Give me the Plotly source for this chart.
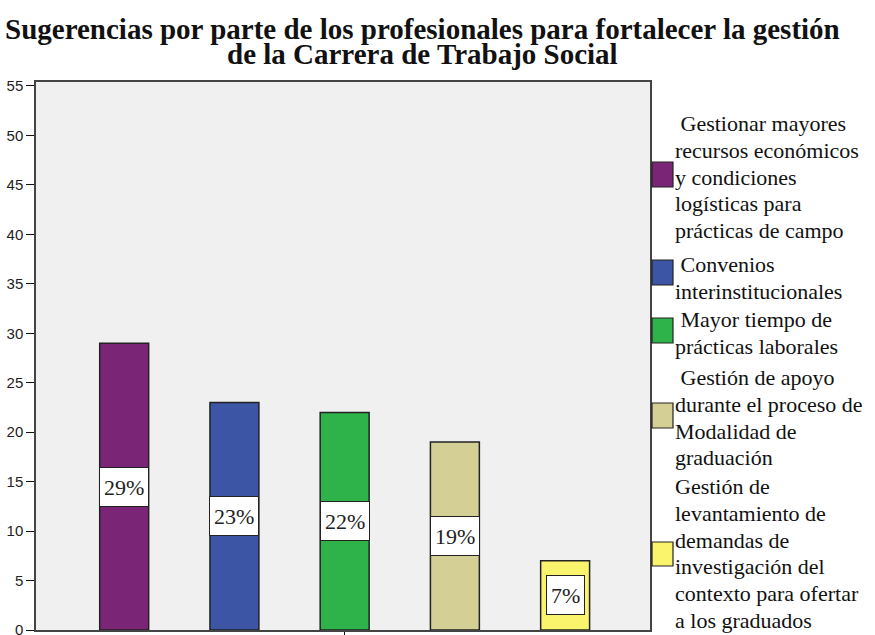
import plotly.graph_objects as go

# data
categorias = [
    "Gestionar mayores recursos económicos y condiciones logísticas para prácticas de campo",
    "Convenios interinstitucionales",
    "Mayor tiempo de prácticas laborales",
    "Gestión de apoyo durante el proceso de Modalidad de graduación",
    "Gestión de levantamiento de demandas de investigación del contexto para ofertar a los graduados",
]
porcentajes = [29, 23, 22, 19, 7]
etiquetas = ["29%", "23%", "22%", "19%", "7%"]
# legend text, wrapped as in the original
leyenda = [
    ["\u00a0Gestionar mayores", "recursos económicos", "y condiciones", "logísticas para", "prácticas de campo"],
    ["\u00a0Convenios", "interinstitucionales"],
    ["\u00a0Mayor tiempo de", "prácticas laborales"],
    ["\u00a0Gestión de apoyo", "durante el proceso de", "Modalidad de", "graduación"],
    ["Gestión de", "levantamiento de", "demandas de", "investigación del", "contexto para ofertar", "a los graduados"],
]
titulo = ["Sugerencias por parte de los profesionales para fortalecer la gestión",
          "de la Carrera de Trabajo Social"]
colores = ["#7B2577", "#3C55A5", "#2DB34A", "#D4CF95", "#F9F46C"]

W, H = 875, 635
L, R, T, B = 36, 225, 82, 5
pw, ph = W - L - R, H - T - B

def px_x(p):
    return (p - L) / pw

def px_y(p):
    return (H - B - p) / ph

fig = go.Figure()
fig.add_trace(go.Bar(
    x=categorias, y=porcentajes,
    marker=dict(color=colores, line=dict(color="#222", width=1.5)),
    width=0.444, showlegend=False, hoverinfo="skip",
))

# white value boxes in the middle of each bar
for c, v, t in zip(categorias, porcentajes, etiquetas):
    fig.add_annotation(
        x=c, y=v / 2, text=t, showarrow=False,
        font=dict(family="Liberation Serif", size=22, color="#222"),
        bgcolor="white", bordercolor="#222", borderwidth=1, borderpad=4, height=30,
    )

# title, one annotation per line
for linea, ybase in zip(titulo, [39, 64]):
    fig.add_annotation(
        xref="paper", yref="paper", x=px_x(423), y=px_y(ybase - 10),
        xanchor="center", yanchor="middle", showarrow=False,
        text="<b>" + linea + "</b>",
        font=dict(family="Liberation Serif", size=29, color="#111"),
    )

# hand-made legend on the right
cuadros = [(162, 187), (260, 285), (318, 343), (403, 428), (542, 566)]
primera_linea = [131, 272, 327, 385, 494]
paso = 26.75
for lineas, col, (y0, y1), yb in zip(leyenda, colores, cuadros, primera_linea):
    fig.add_shape(type="rect", xref="paper", yref="paper",
                  x0=px_x(652), x1=px_x(673), y0=px_y(y1), y1=px_y(y0),
                  fillcolor=col, line=dict(color="#222", width=1.2))
    for k, t in enumerate(lineas):
        fig.add_annotation(
            xref="paper", yref="paper", x=px_x(673), y=px_y(yb + k * paso - 7.5),
            xanchor="left", yanchor="middle", align="left", showarrow=False,
            text=t, font=dict(family="Liberation Serif", size=22, color="#111"),
        )

fig.update_layout(
    width=W, height=H,
    margin=dict(l=L, r=R, t=T, b=B),
    paper_bgcolor="white", plot_bgcolor="#F0F0F0",
    showlegend=False,
)
fig.update_xaxes(
    range=[-0.80, 4.77], tickvals=[categorias[2]], showticklabels=False,
    ticks="outside", ticklen=6, tickcolor="#111", automargin=False,
    showline=True, linecolor="#444", linewidth=1.5, mirror=True, showgrid=False,
)
fig.update_yaxes(
    range=[0, 55.4], dtick=5, ticks="outside", ticklen=8, tickcolor="#111",
    tickfont=dict(family="Liberation Sans", size=15, color="#222"), automargin=False,
    ticklabeloverflow="allow",
    showline=True, linecolor="#444", linewidth=1.5, mirror=True,
    showgrid=False, zeroline=False,
)

fig.write_html("out.html", config={"displayModeBar": False},
               post_script="document.body.style.margin='0';document.body.style.overflow='hidden';")
